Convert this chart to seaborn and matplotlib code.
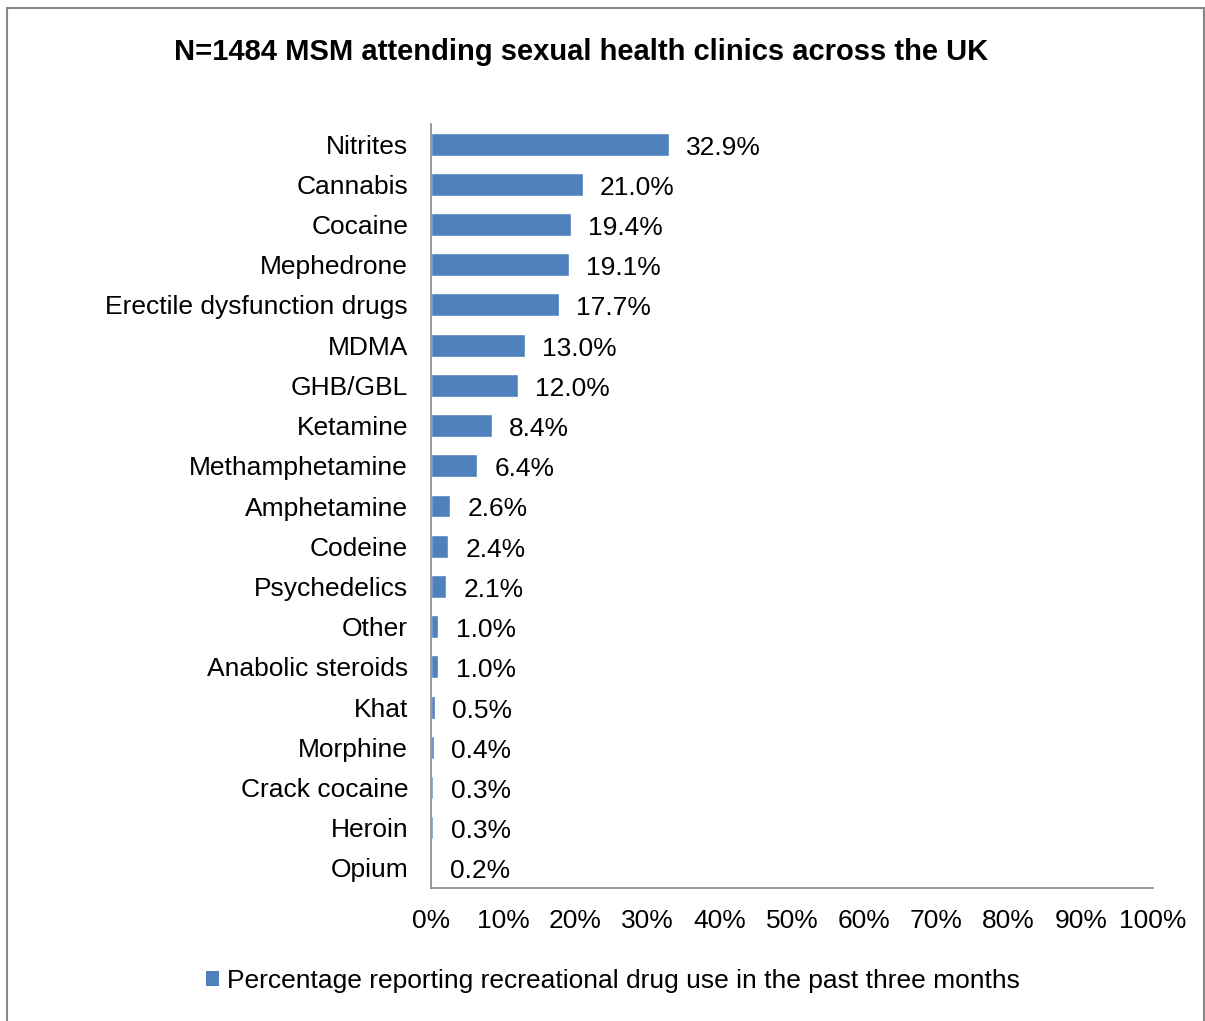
import matplotlib
matplotlib.use("Agg")
import matplotlib.pyplot as plt
import seaborn as sns
import pandas as pd
from matplotlib.patches import Rectangle, Patch
from matplotlib.ticker import PercentFormatter

drugs = ["Nitrites", "Cannabis", "Cocaine", "Mephedrone", "Erectile dysfunction drugs",
         "MDMA", "GHB/GBL", "Ketamine", "Methamphetamine", "Amphetamine", "Codeine",
         "Psychedelics", "Other", "Anabolic steroids", "Khat", "Morphine",
         "Crack cocaine", "Heroin", "Opium"]
pct = [32.9, 21.0, 19.4, 19.1, 17.7, 13.0, 12.0, 8.4, 6.4, 2.6, 2.4, 2.1,
       1.0, 1.0, 0.5, 0.4, 0.3, 0.3, 0.2]
x_ticks = [0, 10, 20, 30, 40, 50, 60, 70, 80, 90, 100]
title = "N=1484 MSM attending sexual health clinics across the UK"
series_name = "Percentage reporting recreational drug use in the past three months"

sns.set_theme(style="white")
plt.rcParams["font.family"] = ["Liberation Sans", "DejaVu Sans"]
plt.rcParams["text.color"] = "black"

bar_color = "#4F81BD"
fs = 19
df = pd.DataFrame({"drug": drugs, "pct": pct})

fig = plt.figure(figsize=(12.05, 10.21), dpi=100)
ax = fig.add_axes([431 / 1205, 133 / 1021, 722 / 1205, 764 / 1021])

sns.barplot(data=df, x="pct", y="drug", color=bar_color, saturation=1,
            width=0.57, ax=ax, orient="h")

ax.set_xlim(0, 100)
ax.set_ylim(len(drugs) - 0.5, -0.5)
ax.set_xticks(x_ticks)
ax.xaxis.set_major_formatter(PercentFormatter(decimals=0))
ax.set_xlabel("")
ax.set_ylabel("")
ax.tick_params(axis="both", length=0, labelsize=fs, colors="black")
ax.tick_params(axis="y", pad=16.5)
ax.tick_params(axis="x", pad=15)

for side in ["top", "right"]:
    ax.spines[side].set_visible(False)
for side in ["left", "bottom"]:
    ax.spines[side].set_color("#888888")
    ax.spines[side].set_linewidth(1.2)

texts = ax.bar_label(ax.containers[0], labels=[f"{v:.1f}%" for v in pct],
                     padding=12.5, fontsize=fs, color="black")
for t in texts:
    t.xyann = (12.5, -2.5)

fig.text(174 / 1205, 1 - 52 / 1021, title, fontsize=21, fontweight="bold",
         ha="left", va="center", color="black")

fig.legend(handles=[Patch(facecolor=bar_color, edgecolor="none")],
           labels=[series_name], loc="center",
           bbox_to_anchor=(613 / 1205, 1 - 981 / 1021), frameon=False,
           fontsize=fs, handlelength=0.5, handleheight=0.5, handletextpad=0.3,
           labelcolor="black")

# outer chart frame
fig.patches.append(Rectangle((7 / 1205, -0.05), 1197 / 1205, 1.05 - 8 / 1021,
                             transform=fig.transFigure, fill=False,
                             edgecolor="#888888", linewidth=1.5))

fig.savefig("out.png", dpi=100)
